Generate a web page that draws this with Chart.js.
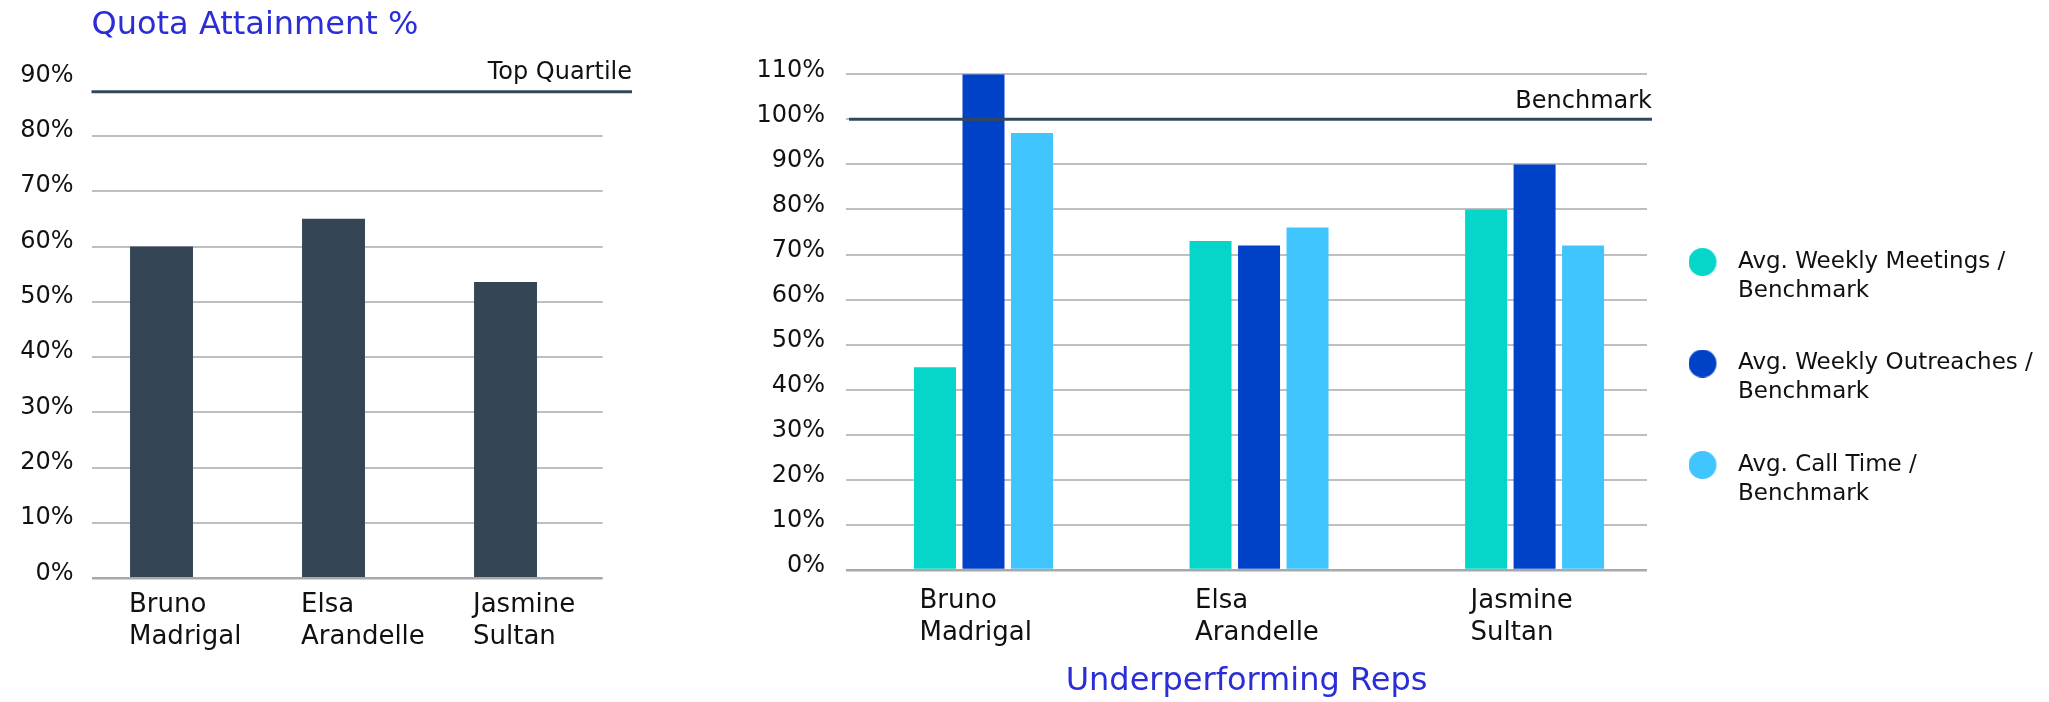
<!DOCTYPE html>
<html>
<head>
<meta charset="utf-8">
<title>Quota Attainment and Underperforming Reps</title>
<script src="https://cdn.jsdelivr.net/npm/chart.js@4.4.1/dist/chart.umd.min.js"></script>
<style>
  html, body { margin: 0; padding: 0; background: #ffffff; }
  body { width: 2049px; height: 702px; position: relative; overflow: hidden; }
  .panel { position: absolute; top: 0; height: 702px; }
  #quotaPanel { left: 0; width: 660px; }
  #activityPanel { left: 700px; width: 1349px; }
</style>
</head>
<body>
<div class="panel" id="quotaPanel"><canvas id="quotaChart"></canvas></div>
<div class="panel" id="activityPanel"><canvas id="activityChart"></canvas></div>
<script>
// ---- data ----
const reps = [['Bruno', 'Madrigal'], ['Elsa', 'Arandelle'], ['Jasmine', 'Sultan']];
const quotaAttainment = [60, 65, 53.6];          // % of quota
const meetingsVsBenchmark = [45, 73, 80];        // % of benchmark
const outreachesVsBenchmark = [110, 72, 90];
const callTimeVsBenchmark = [97, 76, 72];
const activitySeries = [
  ['Avg. Weekly Meetings /', 'Benchmark'],
  ['Avg. Weekly Outreaches /', 'Benchmark'],
  ['Avg. Call Time /', 'Benchmark']
];
const topQuartile = 88;      // reference line on the quota chart
const benchmark = 100;       // reference line on the activity chart

// ---- styling ----
const FONT = '"DejaVu Sans", sans-serif';
const INK = '#111111';
const TITLE_BLUE = '#2B2ED6';
const SLATE = '#344656';
const SERIES_COLORS = ['#06D6C9', '#0042C7', '#40C5FF'];
const REF_LINE = '#33475A';

Chart.defaults.font.family = FONT;
Chart.defaults.color = INK;
Chart.defaults.animation = false;

const toPoints = arr => arr.map((v, i) => ({ x: i, y: v }));
const pct = v => v + '%';

function gridColor(hiddenValue) {
  return c => {
    if (c.tick.value === hiddenValue) return 'rgba(0,0,0,0)';
    return c.tick.value === 0 ? 'rgba(0,0,0,0.34)' : 'rgba(0,0,0,0.25)';
  };
}

// Horizontal reference line with a right-aligned caption above it
const refLinePlugin = {
  id: 'refLine',
  afterDraw(chart, args, o) {
    if (o.value == null) return;
    const { ctx, chartArea } = chart;
    const y = chart.scales.y.getPixelForValue(o.value);
    const x0 = chartArea.left + o.startInset;
    const x1 = chartArea.right + o.overhang;
    ctx.save();
    ctx.strokeStyle = o.color;
    ctx.lineWidth = o.width;
    ctx.beginPath();
    ctx.moveTo(x0, y);
    ctx.lineTo(x1, y);
    ctx.stroke();
    ctx.font = o.fontSize + 'px ' + FONT;
    ctx.fillStyle = INK;
    ctx.textAlign = 'right';
    ctx.textBaseline = 'alphabetic';
    ctx.fillText(o.label, x1, y - o.labelGap);
    ctx.restore();
  }
};

// Round legend marker; the dot sits left of the image centre
function legendDot(color) {
  const c = document.createElement('canvas');
  c.width = 40; c.height = 28;
  const g = c.getContext('2d');
  g.fillStyle = color;
  g.beginPath();
  g.arc(14, 14, 14, 0, Math.PI * 2);
  g.fill();
  return c;
}

// ---- left: quota attainment ----
new Chart(document.getElementById('quotaChart'), {
  type: 'bar',
  data: {
    datasets: [{
      label: 'Quota Attainment',
      data: toPoints(quotaAttainment),
      backgroundColor: SLATE,
      barPercentage: 0.366,
      categoryPercentage: 1
    }]
  },
  options: {
    responsive: true,
    maintainAspectRatio: false,
    events: [],
    layout: { padding: { top: 0, right: 57.3, bottom: 0, left: 0 } },
    plugins: {
      legend: { display: false },
      tooltip: { enabled: false },
      title: {
        display: true,
        text: 'Quota Attainment %',
        align: 'start',
        fullSize: false,
        color: TITLE_BLUE,
        font: { size: 32, weight: 'normal', lineHeight: 1.2 },
        padding: { top: 6, bottom: 36.2 }
      },
      refLine: {
        value: topQuartile, label: 'Top Quartile', startInset: 0, overhang: 29.3,
        color: REF_LINE, width: 3, fontSize: 24, labelGap: 12.7
      }
    },
    scales: {
      x: {
        type: 'linear', min: -0.407, max: 2.565, offset: false,
        grid: { display: false, drawTicks: false },
        border: { display: false },
        ticks: {
          stepSize: 1, includeBounds: false, autoSkip: false, maxRotation: 0,
          align: 'start', labelOffset: -32.5, padding: 11,
          font: { size: 26, lineHeight: 1.23 }, color: INK,
          callback: v => reps[v] || ''
        },
        afterFit: s => { s.height = 123.7; }
      },
      y: {
        min: 0, max: 90, z: 1,
        grid: { color: gridColor(90), lineWidth: c => c.tick.value === 0 ? 2.5 : 2, drawTicks: false },
        border: { display: false },
        ticks: { stepSize: 10, padding: 18, labelOffset: -5, font: { size: 24 }, color: INK, callback: pct },
        afterFit: s => { s.width = 91.5; }
      }
    }
  },
  plugins: [refLinePlugin]
});

// ---- right: activity vs benchmark ----
const activityData = [meetingsVsBenchmark, outreachesVsBenchmark, callTimeVsBenchmark];

new Chart(document.getElementById('activityChart'), {
  type: 'bar',
  data: {
    datasets: activityData.map((vals, i) => ({
      label: activitySeries[i].join(' '),
      legendLines: activitySeries[i],
      data: toPoints(vals),
      backgroundColor: SERIES_COLORS[i],
      barPercentage: 0.866,
      categoryPercentage: 0.528
    }))
  },
  options: {
    responsive: true,
    maintainAspectRatio: false,
    events: [],
    layout: { padding: { top: 74.3, right: 7, bottom: 14.3, left: 0 } },
    plugins: {
      tooltip: { enabled: false },
      legend: {
        position: 'right',
        align: 'center',
        maxWidth: 395,
        labels: {
          usePointStyle: true,
          pointStyleWidth: 36,
          padding: 43.5,
          color: INK,
          font: { size: 23, lineHeight: 1.26 },
          generateLabels: chart => chart.data.datasets.map((ds, i) => ({
            text: ds.legendLines,
            fillStyle: ds.backgroundColor,
            strokeStyle: ds.backgroundColor,
            lineWidth: 0,
            pointStyle: legendDot(ds.backgroundColor),
            fontColor: INK,
            hidden: false,
            datasetIndex: i
          }))
        }
      },
      refLine: {
        value: benchmark, label: 'Benchmark', startInset: 3, overhang: 5,
        color: REF_LINE, width: 3, fontSize: 24, labelGap: 11
      }
    },
    scales: {
      x: {
        type: 'linear', min: -0.499, max: 2.408, offset: false,
        grid: { display: false, drawTicks: false },
        border: { display: false },
        ticks: {
          stepSize: 1, includeBounds: false, autoSkip: false, maxRotation: 0,
          align: 'start', labelOffset: -64, padding: 15,
          font: { size: 26, lineHeight: 1.23 }, color: INK,
          callback: v => reps[v] || ''
        },
        title: {
          display: true,
          text: 'Underperforming Reps',
          color: TITLE_BLUE,
          font: { size: 32, lineHeight: '11.4px' },
          padding: { top: 0, bottom: 0 }
        },
        afterFit: s => { s.height = 117.7; }
      },
      y: {
        min: 0, max: 110,
        grid: { color: gridColor(null), lineWidth: c => c.tick.value === 0 ? 2.5 : 2, drawTicks: false },
        border: { display: false },
        ticks: { stepSize: 10, padding: 21, labelOffset: -4, font: { size: 24 }, color: INK, callback: pct },
        afterFit: s => { s.width = 146; }
      }
    }
  },
  plugins: [refLinePlugin]
});
</script>
</body>
</html>
